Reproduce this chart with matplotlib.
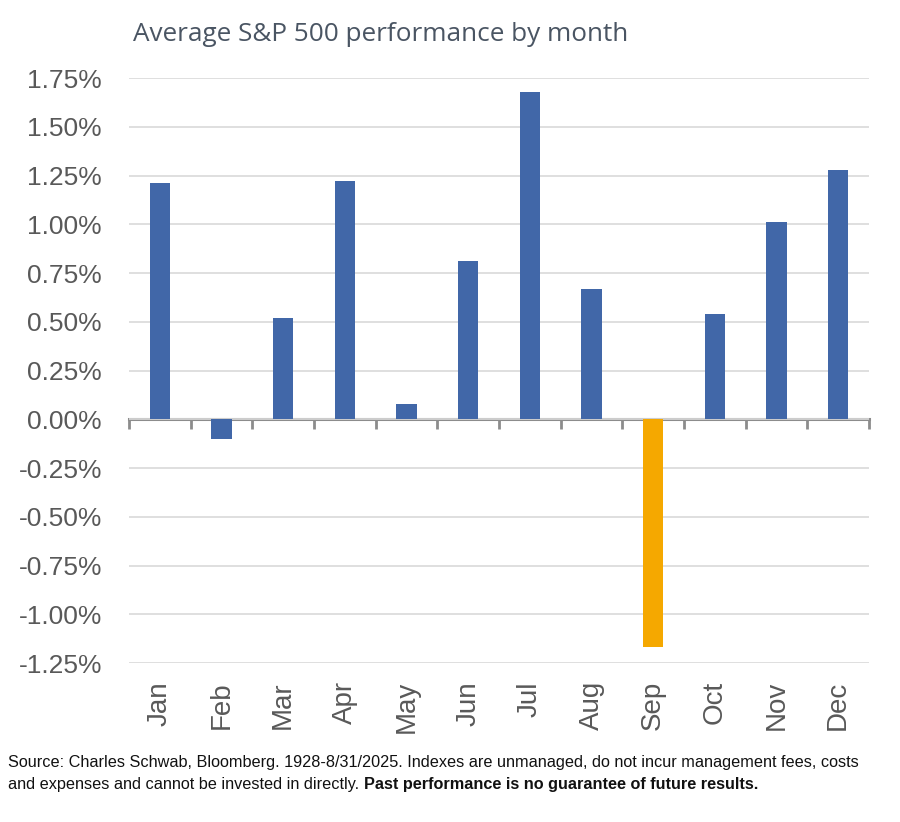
import numpy as np
import matplotlib
matplotlib.use("Agg")
import matplotlib.pyplot as plt

# ── Data ─────────────────────────────────────────────────────────────────────
months  = ["Jan", "Feb", "Mar", "Apr", "May", "Jun",
           "Jul", "Aug", "Sep", "Oct", "Nov", "Dec"]
avg_ret = [1.21, -0.10, 0.52, 1.22, 0.08, 0.81,
           1.68, 0.67, -1.17, 0.54, 1.01, 1.28]
y_ticks = [-1.25, -1.00, -0.75, -0.50, -0.25, 0.00,
           0.25, 0.50, 0.75, 1.00, 1.25, 1.50, 1.75]
highlight = "Sep"

title    = "Average S&P 500 performance by month"
note_1   = ("Source: Charles Schwab, Bloomberg. 1928-8/31/2025. Indexes are unmanaged, "
            "do not incur management fees, costs")
note_2   = "and expenses and cannot be invested in directly. "
note_2b  = "Past performance is no guarantee of future results."

# ── Style ────────────────────────────────────────────────────────────────────
BLUE   = "#4167A8"
ORANGE = "#F5A800"
GRID   = "#D9D9D9"
AXIS   = "#8C8C8C"
TICK_T = "#595959"
TITLE  = "#4A5563"
NOTE_F = "Liberation Sans"

fig = plt.figure(figsize=(9, 8.22), dpi=100)
ax  = fig.add_axes([0.1433, 0.1934, 0.8222, 0.7117])

x = np.arange(len(months))
colors = [ORANGE if m == highlight else BLUE for m in months]
ax.bar(x, avg_ret, width=0.33, color=colors, zorder=3)

ax.set_xlim(-0.5, len(months) - 0.5)
ax.set_ylim(y_ticks[0], y_ticks[-1])
ax.set_yticks(y_ticks)
ax.set_yticklabels([f"{v:.2f}%" for v in y_ticks],
                   fontfamily="Liberation Sans", fontsize=19, color=TICK_T)
ax.set_xticks(x)
ax.set_xticklabels(months, rotation=90, fontfamily="Liberation Sans",
                   fontsize=20, color=TICK_T)
ax.tick_params(axis="both", length=0)
ax.tick_params(axis="x", pad=13)
ax.tick_params(axis="y", pad=19.5)

for s in ax.spines.values():
    s.set_visible(False)
ax.yaxis.grid(True, color=GRID, linewidth=1.2, zorder=0)

# zero line with category-boundary ticks
zero = ax.secondary_xaxis(0, transform=ax.transData)
zero.spines["bottom"].set_color(AXIS)
zero.spines["bottom"].set_linewidth(2.2)
zero.set_xticks(np.arange(len(months) + 1) - 0.5)
zero.set_xticklabels([])
zero.tick_params(axis="x", length=7, width=2, color=AXIS, direction="out")

fig.text(0.148, 0.958, title, fontfamily="Open Sans", fontsize=18.8,
         color=TITLE, ha="left", va="center")

t1 = fig.text(0.009, 0.0718, note_1, fontfamily=NOTE_F,
              fontsize=11.7, color="#111111", ha="left", va="center")
t2 = fig.text(0.009, 0.040, note_2, fontfamily=NOTE_F,
              fontsize=11.7, color="#111111", ha="left", va="baseline")
ax.annotate(note_2b, xy=(1, 0), xycoords=t2, va="bottom", ha="left",
            fontfamily=NOTE_F, fontweight="bold",
            fontsize=11.7, color="#111111", annotation_clip=False)

fig.savefig("out.png", dpi=100)
